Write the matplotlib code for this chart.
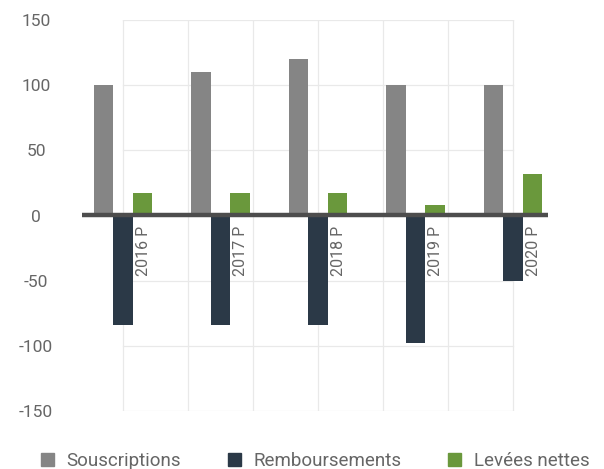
import numpy as np
import matplotlib.pyplot as plt
from matplotlib.patches import Patch

# data
years = ['2016 P', '2017 P', '2018 P', '2019 P', '2020 P']
souscriptions = [100, 110, 120, 100, 100]
remboursements = [-84, -84, -84, -98, -50]
levees_nettes = [17, 17, 17, 8, 32]
series_names = ['Souscriptions', 'Remboursements', 'Levées nettes']
y_ticks = [150, 100, 50, 0, -50, -100, -150]

c_grey = '#858585'
c_dark = '#2b3947'
c_green = '#6a983c'
c_text = '#666666'

plt.rcParams['font.family'] = ['Roboto', 'DejaVu Sans']

fig = plt.figure(figsize=(6.04, 4.69), dpi=100)
ax = fig.add_axes([82 / 604, 58 / 469, 466 / 604, 391 / 469])

x = np.arange(len(years))
w = 0.2

# light grid, only over the inner area
grid_x = np.linspace(0, len(years) - 1, 7)
for gx in grid_x:
    ax.plot([gx, gx], [-150, 150], color='#e9e9e9', lw=0.9, zorder=0)
for gy in y_ticks:
    ax.plot([grid_x[0], grid_x[-1]], [gy, gy], color='#e9e9e9', lw=0.9, zorder=0)

ax.bar(x - w, souscriptions, width=w, color=c_grey, zorder=2)
ax.bar(x, remboursements, width=w, color=c_dark, zorder=2)
ax.bar(x + w, levees_nettes, width=w, color=c_green, zorder=2)

ax.axhline(0, color='#4d4d4d', lw=3.2, zorder=3, solid_capstyle='round')

# category labels sit vertically next to the dark bars, under the zero line
for xi, lab in zip(x, years):
    ax.text(xi + w * 0.66, -8, lab, rotation=90, ha='left', va='top',
            fontsize=11.5, color=c_text, zorder=4)

ax.set_xlim(-0.42, 4.36)
ax.set_ylim(-150, 150)
ax.set_xticks([])
ax.set_yticks(y_ticks)
ax.set_yticklabels([str(t) for t in y_ticks], ha='center', fontsize=12.5, color=c_text)
ax.tick_params(axis='y', length=0, pad=33)
for s in ax.spines.values():
    s.set_visible(False)

handles = [Patch(color=c_grey), Patch(color=c_dark), Patch(color=c_green)]
fig.legend(handles, series_names, loc='center', bbox_to_anchor=(0.5215, 8 / 469),
           ncol=3, frameon=False, fontsize=13.5, labelcolor=c_text,
           handlelength=0.7, handleheight=0.7, handletextpad=0.67, columnspacing=2.5)

fig.savefig('out.png', dpi=100)
